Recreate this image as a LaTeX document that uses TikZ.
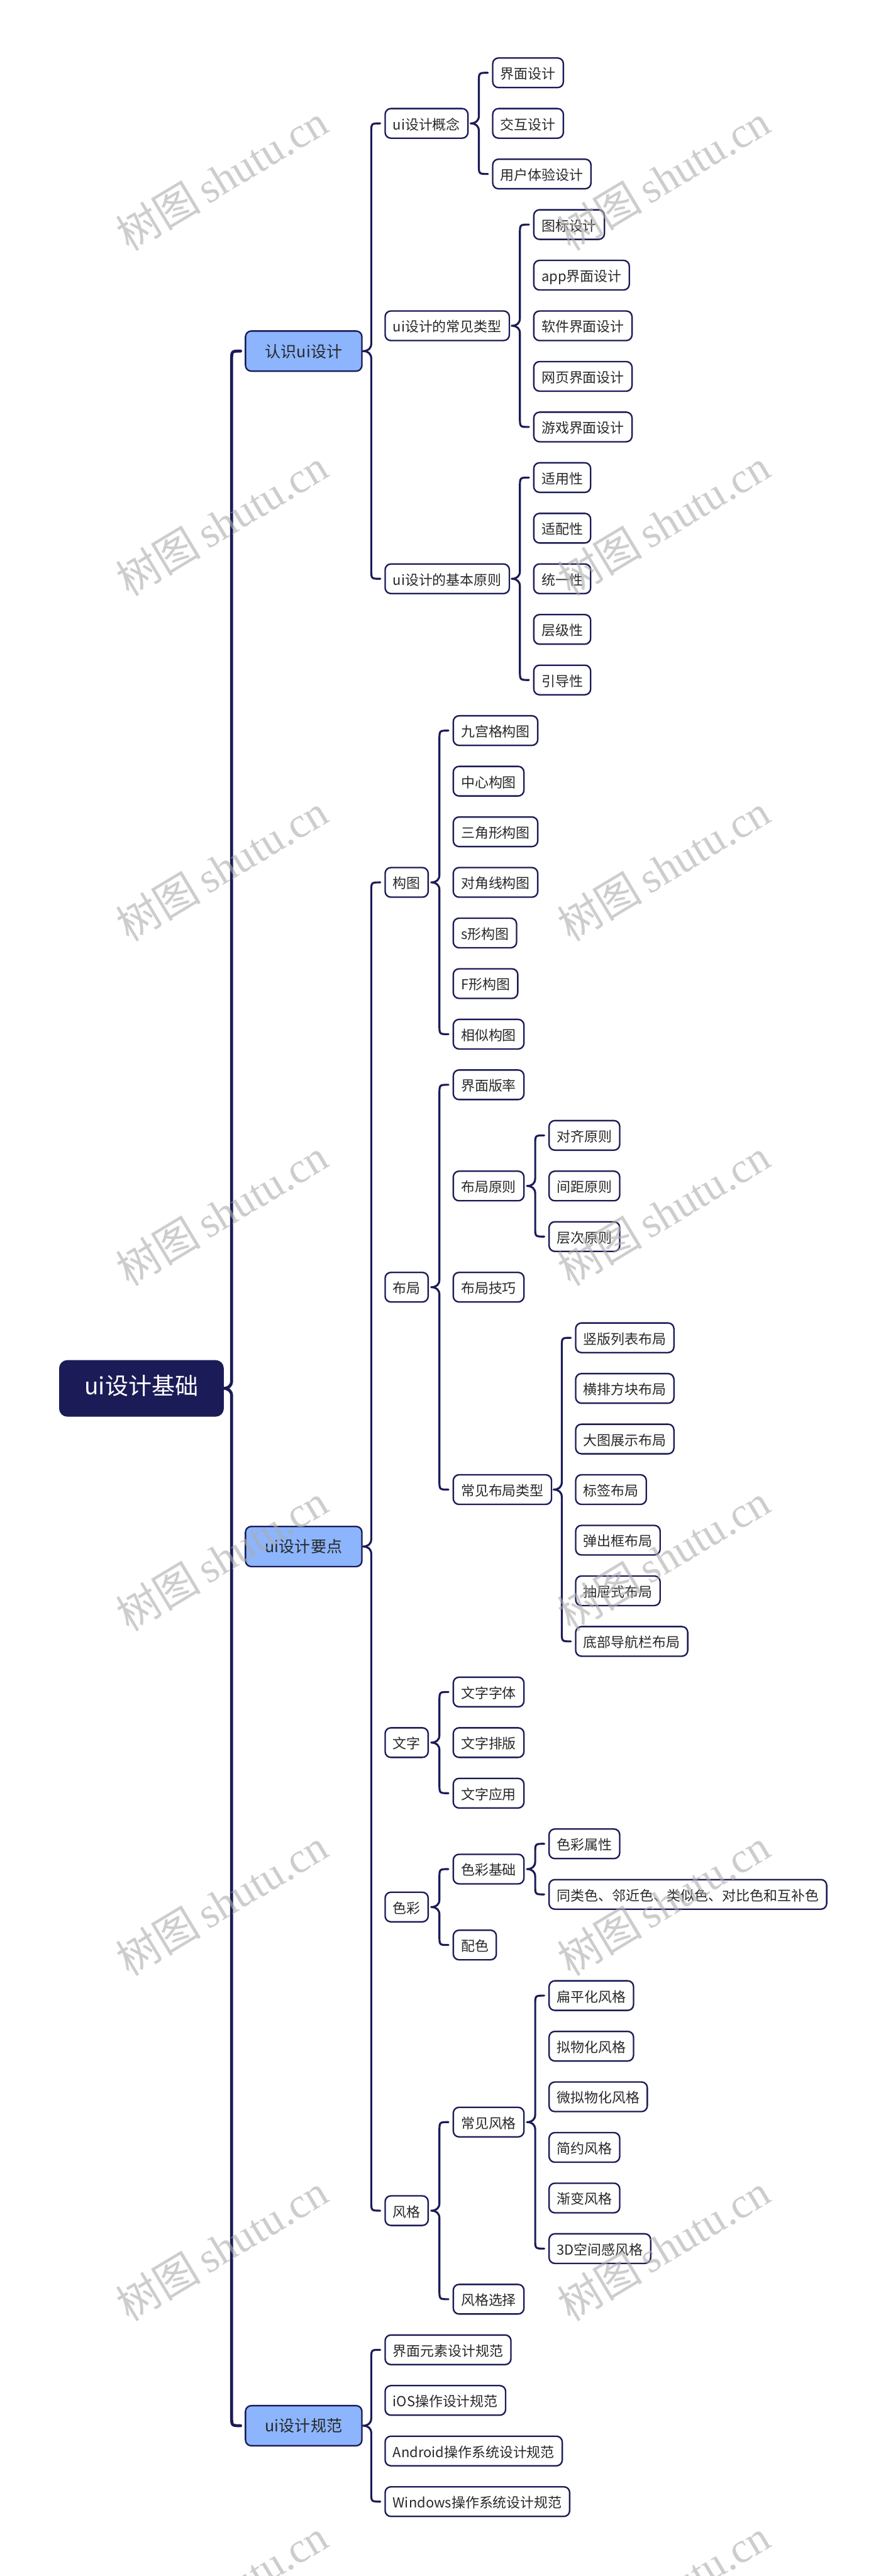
\documentclass[tikz,border=0pt]{standalone}
\usepackage{fontspec}
\newfontfamily\cjk{Noto Sans CJK SC}
\newfontfamily\wmserif{Liberation Serif}
\usetikzlibrary{calc}
\definecolor{navy}{RGB}{27,27,87}
\definecolor{bluefill}{RGB}{140,181,253}
\definecolor{txt}{RGB}{40,40,40}
\definecolor{wm}{RGB}{172,172,172}
\newcommand\brc[4][1.2pt]{%
 \draw[conn,line width=#1] let \p1=(#2.east), \p2=(#3.west), \p3=(#4.west) in
 (\x2-2.5pt,\y2) .. controls (\x2-8pt,\y2) .. (\x2-8pt,\y2-5.5pt)
 -- (\x2-8pt,\y1+4.6pt) .. controls (\x2-8pt,\y1+1.5pt) and (\x2-10pt,\y1) .. (\x2-13pt,\y1)
 .. controls (\x2-10pt,\y1) and (\x2-8pt,\y1-1.5pt) .. (\x2-8pt,\y1-4.6pt)
 -- (\x2-8pt,\y3+5.5pt) .. controls (\x2-8pt,\y3) .. (\x2-2.5pt,\y3);}
\tikzset{
 conn/.style={draw=navy,line cap=round,line join=round},
 leaf/.style={draw=navy,line width=0.9pt,rounded corners=3.5pt,fill=white,
   font=\cjk\fontsize{8.4pt}{10pt}\selectfont,text=txt,inner xsep=4.7pt,inner ysep=0pt,
   minimum height=18pt,text height=0.88em,text depth=0.12em,anchor=west},
 bluebox/.style={draw=navy,line width=0.9pt,rounded corners=3.5pt,fill=bluefill,
   font=\cjk\fontsize{9.6pt}{11pt}\selectfont,text=txt,inner xsep=12pt,inner ysep=0pt,
   minimum height=24.4pt,text height=0.88em,text depth=0.12em,anchor=west},
 rootbox/.style={draw=navy,line width=0.9pt,rounded corners=4.5pt,fill=navy,
   font=\cjk\fontsize{14.2pt}{16pt}\selectfont,text=white,inner xsep=15pt,inner ysep=0pt,
   minimum height=33.5pt,text height=0.88em,text depth=0.12em,anchor=west},
 wmark/.style={text=wm,opacity=0.6,rotate=31,inner sep=0pt}
}
\begin{document}
\begin{tikzpicture}[x=1pt,y=-1pt]
\useasboundingbox[fill=white] (0,0) rectangle (536,1568);
% root and level 2
\node[rootbox] (root) at (36,845.1) {ui设计基础};
\node[bluebox] (A) at (149,213.7) {认识ui设计};
\node[bluebox] (B) at (149,941.35) {ui设计要点};
\node[bluebox] (C) at (149,1476.5) {ui设计规范};
% A branch
\node[leaf] (A1) at (234,75.1) {ui设计概念};
\node[leaf] (A2) at (234,198.3) {ui设计的常见类型};
\node[leaf] (A3) at (234,352.3) {ui设计的基本原则};
\node[leaf] (A11) at (299.5,44.3) {界面设计};
\node[leaf] (A12) at (299.5,75.1) {交互设计};
\node[leaf] (A13) at (299.5,105.9) {用户体验设计};
\node[leaf] (A21) at (324.5,136.7) {图标设计};
\node[leaf] (A22) at (324.5,167.5) {app界面设计};
\node[leaf] (A23) at (324.5,198.3) {软件界面设计};
\node[leaf] (A24) at (324.5,229.1) {网页界面设计};
\node[leaf] (A25) at (324.5,259.9) {游戏界面设计};
\node[leaf] (A31) at (324.5,290.7) {适用性};
\node[leaf] (A32) at (324.5,321.5) {适配性};
\node[leaf] (A33) at (324.5,352.3) {统一性};
\node[leaf] (A34) at (324.5,383.1) {层级性};
\node[leaf] (A35) at (324.5,413.9) {引导性};
% B branch
\node[leaf] (B1) at (234,537.1) {构图};
\node[leaf] (B2) at (234,783.5) {布局};
\node[leaf] (B3) at (234,1060.7) {文字};
\node[leaf] (B4) at (234,1160.8) {色彩};
\node[leaf] (B5) at (234,1345.6) {风格};
\node[leaf] (B11) at (275.5,444.7) {九宫格构图};
\node[leaf] (B12) at (275.5,475.5) {中心构图};
\node[leaf] (B13) at (275.5,506.3) {三角形构图};
\node[leaf] (B14) at (275.5,537.1) {对角线构图};
\node[leaf] (B15) at (275.5,567.9) {s形构图};
\node[leaf] (B16) at (275.5,598.7) {F形构图};
\node[leaf] (B17) at (275.5,629.5) {相似构图};
\node[leaf] (B21) at (275.5,660.3) {界面版率};
\node[leaf] (B22) at (275.5,721.9) {布局原则};
\node[leaf] (B23) at (275.5,783.5) {布局技巧};
\node[leaf] (B24) at (275.5,906.7) {常见布局类型};
\node[leaf] (B221) at (333.8,691.1) {对齐原则};
\node[leaf] (B222) at (333.8,721.9) {间距原则};
\node[leaf] (B223) at (333.8,752.7) {层次原则};
\node[leaf] (B241) at (350,814.3) {竖版列表布局};
\node[leaf] (B242) at (350,845.1) {横排方块布局};
\node[leaf] (B243) at (350,875.9) {大图展示布局};
\node[leaf] (B244) at (350,906.7) {标签布局};
\node[leaf] (B245) at (350,937.5) {弹出框布局};
\node[leaf] (B246) at (350,968.3) {抽屉式布局};
\node[leaf] (B247) at (350,999.1) {底部导航栏布局};
\node[leaf] (B31) at (275.5,1029.9) {文字字体};
\node[leaf] (B32) at (275.5,1060.7) {文字排版};
\node[leaf] (B33) at (275.5,1091.5) {文字应用};
\node[leaf] (B41) at (275.5,1137.7) {色彩基础};
\node[leaf] (B42) at (275.5,1183.9) {配色};
\node[leaf] (B411) at (333.8,1122.3) {色彩属性};
\node[leaf] (B412) at (333.8,1153.1) {同类色、邻近色、类似色、对比色和互补色};
\node[leaf] (B51) at (275.5,1291.7) {常见风格};
\node[leaf] (B52) at (275.5,1399.5) {风格选择};
\node[leaf] (B511) at (333.8,1214.7) {扁平化风格};
\node[leaf] (B512) at (333.8,1245.5) {拟物化风格};
\node[leaf] (B513) at (333.8,1276.3) {微拟物化风格};
\node[leaf] (B514) at (333.8,1307.1) {简约风格};
\node[leaf] (B515) at (333.8,1337.9) {渐变风格};
\node[leaf] (B516) at (333.8,1368.7) {3D空间感风格};
% C branch
\node[leaf] (C1) at (234,1430.3) {界面元素设计规范};
\node[leaf] (C2) at (234,1461.1) {iOS操作设计规范};
\node[leaf] (C3) at (234,1491.9) {Android操作系统设计规范};
\node[leaf] (C4) at (234,1522.7) {Windows操作系统设计规范};
% connectors
\brc[1.8pt]{root}{A}{C}
\brc{A}{A1}{A3}
\brc{B}{B1}{B5}
\brc{C}{C1}{C4}
\brc{A1}{A11}{A13}
\brc{A2}{A21}{A25}
\brc{A3}{A31}{A35}
\brc{B1}{B11}{B17}
\brc{B2}{B21}{B24}
\brc{B22}{B221}{B223}
\brc{B24}{B241}{B247}
\brc{B3}{B31}{B33}
\brc{B4}{B41}{B42}
\brc{B41}{B411}{B412}
\brc{B5}{B51}{B52}
\brc{B51}{B511}{B516}
% watermarks
\foreach \k in {0,...,7}{
 \node[wmark] (wl\k) at (135,{108+210*\k}) {\fontsize{26pt}{28pt}\selectfont{\cjk 树图}\,{\wmserif shutu.cn}};
 \node[wmark] (wr\k) at (404,{108+210*\k}) {\fontsize{26pt}{28pt}\selectfont{\cjk 树图}\,{\wmserif shutu.cn}};
}
\end{tikzpicture}
\end{document}
